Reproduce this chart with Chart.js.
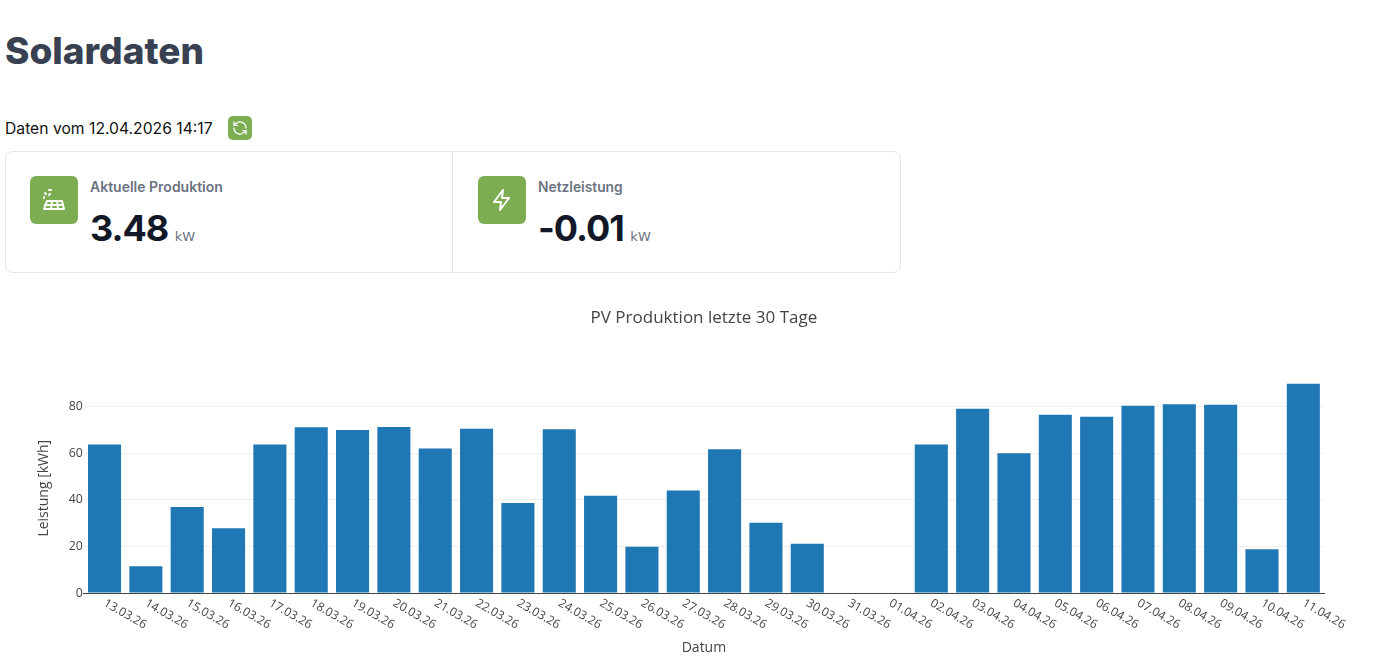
<!DOCTYPE html>
<html lang="de">
<head>
    <meta charset="UTF-8">
    <title>Solardaten</title>
    <script src="https://cdn.jsdelivr.net/npm/chart.js@4/dist/chart.umd.js"></script>
    <style>
        html, body { margin: 0; padding: 0; background: #fff; overflow: hidden; }
        body { width: 1381px; height: 671px; position: relative; font-family: Inter, sans-serif; }
        h1 {
            position: absolute; left: 5px; top: 29px; margin: 0;
            font-size: 37px; line-height: 44px; font-weight: 800; color: #374151;
        }
        #stamp { position: absolute; left: 5px; top: 119px; font-size: 15.7px; line-height: 20px; color: #111; }
        #refresh {
            position: absolute; left: 228px; top: 116px; width: 24px; height: 24px;
            background: #7cad52; border-radius: 5px; display: flex; align-items: center; justify-content: center;
        }
        #stats {
            position: absolute; left: 5px; top: 151px; width: 894px; height: 120px;
            border: 1px solid #e5e7eb; border-radius: 8px;
        }
        .stat { position: absolute; top: 0; bottom: 0; width: 446px; }
        .stat + .stat { left: 446px; border-left: 1px solid #e5e7eb; }
        .icon {
            position: absolute; left: 24px; top: 24px; width: 48px; height: 48px;
            background: #7cad52; border-radius: 6px; display: flex; align-items: center; justify-content: center;
        }
        .stat + .stat .icon { left: 25px; }
        .label { position: absolute; left: 84px; top: 26px; font-size: 14px; line-height: 18px; font-weight: 600; color: #6b7280; }
        .stat + .stat .label { left: 85px; font-size: 13.8px; }
        .value { position: absolute; left: 84px; top: 53px; font-size: 36px; line-height: 46px; font-weight: 700; color: #111827; letter-spacing: -1px; white-space: nowrap; }
        .stat + .stat .value { left: 85px; }
        .unit { font-size: 13px; font-weight: 400; color: #6b7280; margin-left: -1px; letter-spacing: 0; font-family: "DejaVu Sans", sans-serif; }
        #chartBox { position: absolute; left: 0; top: 296px; width: 1381px; height: 375px; }
    </style>
</head>
<body>
    <h1>Solardaten</h1>
    <div id="stamp">Daten vom 12.04.2026 14:17</div>
    <div id="refresh">
        <svg width="16" height="16" viewBox="0 0 24 24" fill="none" stroke="#fff" stroke-width="2" stroke-linecap="round" stroke-linejoin="round">
            <path d="M21 12a9 9 0 0 0-15.5-6.2L3 8"/><path d="M3 3v5h5"/>
            <path d="M3 12a9 9 0 0 0 15.5 6.2L21 16"/><path d="M21 21v-5h-5"/>
        </svg>
    </div>
    <div id="stats">
        <div class="stat">
            <div class="icon">
                <svg width="24" height="24" viewBox="0 0 24 24" fill="none" stroke="#fff" stroke-width="2" stroke-linecap="round" stroke-linejoin="round">
                    <path d="M7 2h2M3 5l1 1M2 9v1M7 7l1-1"/>
                    <path d="M5 13h15l2 8H2z"/><path d="M10 13l-1 8M15 13l1 8M3 17h18"/>
                </svg>
            </div>
            <div class="label">Aktuelle Produktion</div>
            <div class="value">3.48 <span class="unit">kW</span></div>
        </div>
        <div class="stat">
            <div class="icon">
                <svg width="24" height="24" viewBox="0 0 24 24" fill="none" stroke="#fff" stroke-width="2" stroke-linecap="round" stroke-linejoin="round">
                    <path d="M13 2 4 14h7l-1 8 9-12h-7z"/>
                </svg>
            </div>
            <div class="label">Netzleistung</div>
            <div class="value">-0.01 <span class="unit">kW</span></div>
        </div>
    </div>
    <div id="chartBox"><canvas id="myChart"></canvas></div>

    <script>
        var categories = ['13.03.26','14.03.26','15.03.26','16.03.26','17.03.26','18.03.26','19.03.26','20.03.26','21.03.26','22.03.26',
            '23.03.26','24.03.26','25.03.26','26.03.26','27.03.26','28.03.26','29.03.26','30.03.26','31.03.26','01.04.26',
            '02.04.26','03.04.26','04.04.26','05.04.26','06.04.26','07.04.26','08.04.26','09.04.26','10.04.26','11.04.26'];
        var production = [63.8,11.5,36.9,27.8,63.8,71.2,70,71.3,62,70.5,
            38.6,70.3,41.8,19.9,44,61.7,30.2,21.2,0,0,
            63.8,79.1,60,76.5,75.7,80.4,81.1,80.8,18.8,90];
        var yTicks = [0,20,40,60,80];

        var ctx = document.getElementById('myChart').getContext('2d');
        var textColor = '#444';
        var fontName = '"Open Sans", sans-serif';

        var myChart = new Chart(ctx, {
            type: 'bar',
            data: {
                labels: categories,
                datasets: [{ data: production, backgroundColor: '#1f77b4', barPercentage: 0.8, categoryPercentage: 1 }]
            },
            options: {
                responsive: true,
                maintainAspectRatio: false,
                animation: false,
                layout: { padding: { left: 36, right: 57, bottom: 15, top: 0 } },
                plugins: {
                    legend: { display: false },
                    tooltip: { enabled: false },
                    title: {
                        display: true,
                        fullSize: false,
                        text: 'PV Produktion letzte 30 Tage',
                        color: textColor,
                        font: { family: fontName, size: 17, weight: 'normal' },
                        padding: { top: 12, bottom: 55 }
                    }
                },
                scales: {
                    x: {
                        grid: { display: false, drawTicks: false },
                        border: { display: true, color: '#444', width: 1 },
                        title: { display: true, text: 'Datum', color: textColor, font: { family: fontName, size: 14 }, padding: { top: 0, bottom: 0 } },
                        ticks: {
                            autoSkip: false, minRotation: -30, maxRotation: -30,
                            color: textColor, font: { family: fontName, size: 12 }, padding: 3
                        },
                        afterBuildTicks: function (scale) {
                            // labels hang to the lower right of the tick
                            scale._getXAxisLabelAlignment = function () { return 'left'; };
                        },
                        afterFit: function (scale) { scale.height = 63; }
                    },
                    y: {
                        min: 0, max: 90,
                        grid: { color: '#eee', drawTicks: false },
                        border: { display: false },
                        title: { display: true, text: 'Leistung [kWh]', color: textColor, font: { family: fontName, size: 14 }, padding: { top: 0, bottom: 15 } },
                        ticks: { color: textColor, font: { family: fontName, size: 12.3 }, padding: 1 },
                        afterBuildTicks: function (scale) {
                            scale.ticks = yTicks.map(function (v) { return { value: v }; });
                        }
                    }
                }
            }
        });
    </script>
</body>
</html>
